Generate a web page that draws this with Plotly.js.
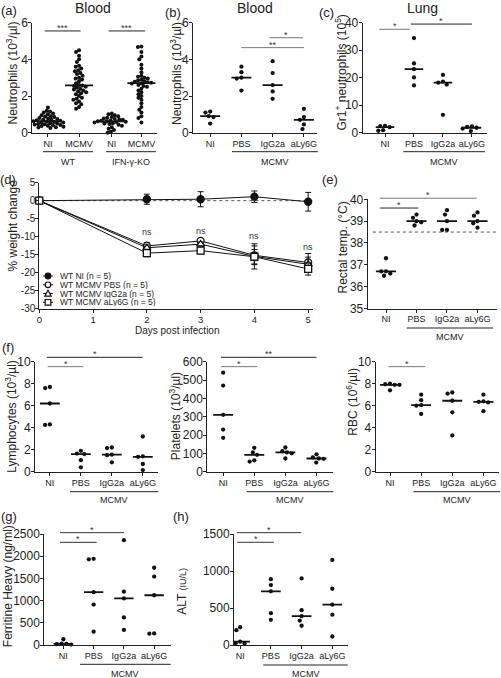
<!DOCTYPE html>
<html>
<head>
<meta charset="utf-8">
<script src="https://cdn.plot.ly/plotly-3.0.1.min.js"></script>
<style>html,body{margin:0;padding:0;background:#fff;overflow:hidden}</style>
</head>
<body>
<div id="chart" style="width:501px;height:678px"></div>
<script>
// ================= DATA =================
const groups4 = ['NI', 'PBS', 'IgG2a', 'aLy6G'];
const pos4 = [0, 1, 2, 3];
const groupsA = ['NI', 'MCMV', 'NI', 'MCMV'];
const posA = [0, 1, 2.05, 3];

// (a) Blood neutrophils (10^3/µl)
const aWT_NI = [1.38, 1.2, 1.15, 1.1, 1.05, 1.0, 0.95, 0.9, 0.88, 0.85, 0.8, 0.78, 0.75, 0.72, 0.7, 0.68, 0.65, 0.63, 0.6, 0.58, 0.56, 0.55, 0.52, 0.5, 0.48, 0.46, 0.45, 0.42, 0.4, 0.38, 0.36, 0.33, 0.3, 0.28, 0.25];
const aWT_MCMV = [4.5, 4.4, 4.2, 4.0, 3.85, 3.65, 3.6, 3.5, 3.4, 3.35, 3.25, 3.2, 3.1, 3.0, 2.95, 2.9, 2.8, 2.7, 2.6, 2.58, 2.55, 2.5, 2.45, 2.4, 2.35, 2.3, 2.25, 2.2, 2.15, 2.1, 2.0, 1.9, 1.85, 1.8, 1.7, 1.6, 1.55, 1.4, 1.3];
const aKO_NI = [1.05, 1.0, 0.95, 0.9, 0.85, 0.82, 0.78, 0.75, 0.72, 0.7, 0.67, 0.65, 0.63, 0.62, 0.6, 0.58, 0.55, 0.52, 0.5, 0.47, 0.43, 0.38, 0.3, 0.22, 0.15, 0.05, 0.0];
const aKO_MCMV = [4.7, 4.68, 4.4, 4.15, 4.0, 3.7, 3.5, 3.3, 3.1, 3.05, 3.0, 2.95, 2.9, 2.85, 2.8, 2.78, 2.75, 2.72, 2.7, 2.68, 2.6, 2.55, 2.5, 2.4, 2.3, 2.2, 2.1, 2.0, 1.9, 1.8, 1.6, 1.4, 1.25, 1.1, 0.9, 0.8, 0.55];

// (b) Blood neutrophils (10^3/µl)
const bNI = [1.15, 1.1, 0.9, 0.85, 0.5];
const bPBS = [3.6, 3.3, 3.0, 2.95, 2.3];
const bIgG = [3.9, 3.25, 2.6, 2.25, 1.85];
const bLy = [1.3, 0.85, 0.7, 0.45, 0.2];

// (c) Lung Gr1+ neutrophils (10^5)
const cNI = [2.5, 2.4, 2.0, 0.9, 0.7];
const cPBS = [34.4, 25.2, 23.1, 20.1, 17.2];
const cIgG = [21, 18.6, 18.2, 17.5, 6.5];
const cLy = [2.3, 2.1, 1.8, 1.5, 0.6];

// (d) % weight change
const days = [0, 2, 3, 4, 5];
const dayTicks = [0, 1, 2, 3, 4, 5];
const wNI = [0, 0.4, 0.4, 1.1, -0.3];
const wNIerr = [0, 1.4, 2.1, 1.6, 2.6];
const wPBS = [0, -12.6, -11.2, -15.2, -17.2];
const wPBSerr = [0, 1.0, 0.5, 2.6, 2.5];
const wIgG = [0, -13.1, -12.1, -15.5, -17.7];
const wIgGerr = [0, 0.8, 0.6, 3.5, 2.0];
const wLy = [0, -14.6, -13.9, -15.6, -19.0];
const wLyerr = [0, 1.0, 0.9, 2.0, 1.7];
const nsDays = [2, 3, 4, 5];
const nsY = [-8.6, -8.4, -9.8, -13.0];
const dNames = ['WT NI (n = 5)', 'WT MCMV PBS (n = 5)', 'WT MCMV IgG2a (n = 5)', 'WT MCMV aLy6G (n = 5)'];
const dYTicks = [-30, -25, -20, -15, -10, -5, 0, 5];
const dYTickText = ['-30', '-25', '-20', '-15', '-10', '-5', '0', '5'];

// (e) Rectal temp (°C)
const eNI = [37.3, 36.7, 36.7, 36.6, 36.5];
const ePBS = [39.3, 39.15, 39.0, 38.95, 38.8];
const eIgG = [39.5, 39.3, 39.0, 38.6, 38.6];
const eLy = [39.4, 39.25, 39.0, 38.9, 38.7];
const eThreshold = 38.5;

// (f) Lymphocytes, Platelets (10^3/µl), RBC (10^6/µl)
const lNI = [7.7, 7.6, 6.2, 4.3, 4.25];
const lPBS = [1.9, 1.65, 1.6, 1.05, 0.4];
const lIgG = [2.2, 2.15, 1.55, 1.5, 0.85];
const lLy = [3.2, 1.4, 1.35, 0.7, 0.15];
const pNI = [540, 470, 310, 230, 185];
const pPBS = [130, 105, 92, 62, 55];
const pIgG = [132, 112, 105, 100, 72];
const pLy = [95, 78, 72, 70, 50];
const rNI = [8.0, 7.95, 7.9, 7.9, 7.4];
const rPBS = [7.0, 6.5, 6.05, 6.0, 5.25];
const rIgG = [7.2, 7.1, 6.45, 5.4, 3.3];
const rLy = [7.0, 6.4, 6.35, 6.3, 5.5];

// (g) Ferritine Heavy (ng/ml)
const gNI = [130, 30, 25, 20, 10];
const gPBS = [1940, 1930, 1190, 910, 300];
const gIgG = [2360, 1200, 1050, 620, 340];
const gLy = [1740, 1540, 1120, 260, 255];

// (h) ALT (IU/L)
const hNI = [240, 200, 45, 25, 20];
const hPBS = [890, 810, 725, 430, 340];
const hIgG = [900, 470, 390, 330, 260];
const hLy = [1150, 760, 545, 410, 115];

// ================= LAYOUT GEOMETRY (px) =================
const W = 501, H = 678;
const FONT = 'Liberation Sans, Arial, sans-serif';
const panels = {
  a:  {n: 1,  x0: 32.3,  x1: 157,   y0: 22.7,  y1: 132.7, xr: [-0.5, 3.5],   yr: [0, 6],     dy: 2},
  b:  {n: 2,  x0: 193,   x1: 317,   y0: 22.7,  y1: 132.7, xr: [-0.55, 3.42], yr: [0, 6],     dy: 2},
  c:  {n: 3,  x0: 362.7, x1: 486.7, y0: 22.7,  y1: 132.7, xr: [-0.77, 3.51], yr: [0, 40],    dy: 10},
  d:  {n: 4,  x0: 39.3,  x1: 313,   y0: 182.7, y1: 308.5, xr: [0, 5.09],     yr: [-30, 5],   dy: 5},
  e:  {n: 5,  x0: 367.7, x1: 496.7, y0: 199.3, y1: 308.5, xr: [-0.6, 3.63],  yr: [35, 40],   dy: 1},
  f1: {n: 6,  x0: 35,    x1: 158,   y0: 361.7, y1: 471.7, xr: [-0.48, 3.49], yr: [0, 10],    dy: 2},
  f2: {n: 7,  x0: 207.3, x1: 333,   y0: 361.7, y1: 471.7, xr: [-0.51, 3.53], yr: [0, 600],   dy: 100},
  f3: {n: 8,  x0: 375.7, x1: 499,   y0: 361.7, y1: 471.7, xr: [-0.46, 3.5],  yr: [0, 10],    dy: 2},
  g:  {n: 9,  x0: 44.3,  x1: 170.5, y0: 534,   y1: 645,   xr: [-0.63, 3.54], yr: [0, 2500],  dy: 500},
  h:  {n: 10, x0: 234,   x1: 348.3, y0: 534,   y1: 645,   xr: [-0.2, 3.52],  yr: [0, 1500],  dy: 500}
};
const sfx = n => (n === 1 ? '' : String(n));
const toPX = (p, x) => p.x0 + (x - p.xr[0]) / (p.xr[1] - p.xr[0]) * (p.x1 - p.x0);
const toPY = (p, y) => p.y1 - (y - p.yr[0]) / (p.yr[1] - p.yr[0]) * (p.y1 - p.y0);

const layout = {
  width: W, height: H, margin: {l: 0, r: 0, t: 0, b: 0},
  showlegend: false, paper_bgcolor: '#fff', plot_bgcolor: 'rgba(0,0,0,0)',
  font: {family: FONT, color: '#222'},
  shapes: [], annotations: []
};

for (const k in panels) {
  const p = panels[k], s = sfx(p.n);
  const yt = [];
  for (let v = p.yr[0]; v <= p.yr[1] + 1e-9; v += p.dy) yt.push(+v.toFixed(6));
  layout['xaxis' + s] = {
    domain: [p.x0 / W, p.x1 / W], range: p.xr, anchor: 'y' + s,
    showline: true, linecolor: '#222', linewidth: 1, ticks: 'outside', ticklen: 3,
    tickwidth: 1, tickcolor: '#222', showgrid: false, zeroline: false,
    tickfont: {size: 9, family: FONT, color: '#222'}, fixedrange: true,
    tickvals: pos4, ticktext: groups4, ticklabelstandoff: -1
  };
  layout['yaxis' + s] = {
    domain: [1 - p.y1 / H, 1 - p.y0 / H], range: p.yr, anchor: 'x' + s,
    showline: true, linecolor: '#222', linewidth: 1, ticks: 'outside', ticklen: 3,
    tickwidth: 1, tickcolor: '#222', showgrid: false, zeroline: false,
    tickvals: yt, tickfont: {size: 12, family: FONT, color: '#222'}, fixedrange: true,
    ticklabelstandoff: -2
  };
}
layout.xaxis.tickvals = posA; layout.xaxis.ticktext = groupsA;
layout.xaxis4.tickvals = dayTicks; layout.xaxis4.ticktext = dayTicks.map(String);
layout.xaxis4.tickfont.size = 9.5;
layout.yaxis4.tickvals = dYTicks; layout.yaxis4.ticktext = dYTickText;
layout.yaxis4.tickfont.size = 10;

// ================= HELPERS =================
function swarm(vals, center, sx, sy, d) {
  const order = vals.map((v, i) => i).sort((i, j) => vals[j] - vals[i]);
  const placed = [], xs = new Array(vals.length);
  for (const i of order) {
    const ypx = vals[i] * sy;
    const iv = [];
    for (const q of placed) {
      const dyy = Math.abs(q.y - ypx);
      if (dyy < d) { const dx = Math.sqrt(d * d - dyy * dyy); iv.push([q.x - dx, q.x + dx]); }
    }
    const cands = [0];
    iv.forEach(r => cands.push(r[0], r[1]));
    cands.sort((a, b) => Math.abs(a) - Math.abs(b));
    let best = 0;
    for (const c of cands) {
      if (iv.every(r => c <= r[0] + 1e-9 || c >= r[1] - 1e-9)) { best = c; break; }
    }
    placed.push({x: best, y: ypx});
    xs[i] = center + best / sx;
  }
  return xs;
}
function median(a) {
  const s = a.slice().sort((x, y) => x - y), m = Math.floor(s.length / 2);
  return s.length % 2 ? s[m] : (s[m - 1] + s[m]) / 2;
}
const traces = [];
function dotPanel(key, groups, positions, halfW, gap, msize) {
  const p = panels[key], s = sfx(p.n);
  const sx = (p.x1 - p.x0) / (p.xr[1] - p.xr[0]);
  const sy = (p.y1 - p.y0) / (p.yr[1] - p.yr[0]);
  let X = [], Y = [], MX = [], MY = [];
  groups.forEach((g, i) => {
    X = X.concat(swarm(g, positions[i], sx, sy, gap));
    Y = Y.concat(g);
    const m = median(g);
    MX.push(positions[i] - halfW, positions[i] + halfW, null);
    MY.push(m, m, null);
  });
  traces.push({type: 'scatter', mode: 'lines', x: MX, y: MY, xaxis: 'x' + s, yaxis: 'y' + s,
    line: {color: '#111', width: 1.8}, hoverinfo: 'skip', cliponaxis: false});
  traces.push({type: 'scatter', mode: 'markers', x: X, y: Y, xaxis: 'x' + s, yaxis: 'y' + s,
    marker: {size: msize, color: '#111'}, hoverinfo: 'skip', cliponaxis: false});
}
function txt(x, y, text, size, extra) {
  layout.annotations.push(Object.assign({
    xref: 'paper', yref: 'paper', x: x / W, y: 1 - y / H, text: text, showarrow: false,
    font: {size: size, family: FONT, color: '#222'}, xanchor: 'center', yanchor: 'middle'
  }, extra || {}));
}
function hline(x0, x1, y, color, width, dash) {
  layout.shapes.push({type: 'line', xref: 'paper', yref: 'paper',
    x0: x0 / W, x1: x1 / W, y0: 1 - y / H, y1: 1 - y / H,
    line: {color: color, width: width || 1, dash: dash || 'solid'}});
}
function sig(key, x0, x1, y, stars, color) {
  const p = panels[key];
  const X0 = toPX(p, x0), X1 = toPX(p, x1), Y = toPY(p, y);
  hline(X0, X1, Y, color, 1);
  txt((X0 + X1) / 2, Y, stars, 9, {yanchor: 'bottom', yshift: -4, font: {size: 9, family: FONT, color: '#333'}});
}

// ================= DOT PANELS =================
dotPanel('a', [aWT_NI, aWT_MCMV, aKO_NI, aKO_MCMV], posA, 0.45, 3.5, 4);
dotPanel('b', [bNI, bPBS, bIgG, bLy], pos4, 0.32, 4.8, 4.3);
dotPanel('c', [cNI, cPBS, cIgG, cLy], pos4, 0.32, 4.8, 4.3);
dotPanel('e', [eNI, ePBS, eIgG, eLy], pos4, 0.33, 4.8, 4.3);
dotPanel('f1', [lNI, lPBS, lIgG, lLy], pos4, 0.32, 4.8, 4.3);
dotPanel('f2', [pNI, pPBS, pIgG, pLy], pos4, 0.32, 4.8, 4.3);
dotPanel('f3', [rNI, rPBS, rIgG, rLy], pos4, 0.32, 4.8, 4.3);
dotPanel('g', [gNI, gPBS, gIgG, gLy], pos4, 0.32, 4.8, 4.3);
dotPanel('h', [hNI, hPBS, hIgG, hLy], pos4, 0.32, 4.8, 4.3);

// ================= (d) weight curves =================
const dSeries = [
  {y: wNI, e: wNIerr, sym: 'circle', fill: '#111'},
  {y: wPBS, e: wPBSerr, sym: 'circle', fill: '#fff'},
  {y: wIgG, e: wIgGerr, sym: 'triangle-up', fill: '#fff'},
  {y: wLy, e: wLyerr, sym: 'square', fill: '#fff'}
];
dSeries.forEach((sr, i) => {
  traces.push({type: 'scatter', mode: 'lines+markers', name: dNames[i], x: days, y: sr.y,
    xaxis: 'x4', yaxis: 'y4', cliponaxis: false, hoverinfo: 'skip',
    line: {color: '#111', width: 1},
    marker: {symbol: sr.sym, size: 7, color: sr.fill, line: {color: '#111', width: 1.3}},
    error_y: {type: 'data', array: sr.e, visible: true, color: '#111', thickness: 1, width: 3}});
});
layout.shapes.push({type: 'line', xref: 'x4 domain', yref: 'y4', x0: 0, x1: 1, y0: 0, y1: 0,
  line: {color: '#555', width: 1, dash: 'dot'}, layer: 'below'});
nsDays.forEach((dd, i) => layout.annotations.push({xref: 'x4', yref: 'y4', x: dd, y: nsY[i], text: 'ns',
  showarrow: false, font: {size: 9, family: FONT, color: '#333'}}));
// legend (d)
const legY = [276, 284.8, 293.5, 302.3];
legY.forEach((yy, i) => {
  hline(43, 53, yy, '#111', 1);
  const cx = 48, r = 2.8, ys = v => 1 - v / H, xs = v => v / W;
  const ln = {color: '#111', width: 1.2};
  if (i === 0) layout.shapes.push({type: 'circle', xref: 'paper', yref: 'paper', x0: xs(cx - r), x1: xs(cx + r), y0: ys(yy + r), y1: ys(yy - r), fillcolor: '#111', line: ln});
  if (i === 1) layout.shapes.push({type: 'circle', xref: 'paper', yref: 'paper', x0: xs(cx - r), x1: xs(cx + r), y0: ys(yy + r), y1: ys(yy - r), fillcolor: '#fff', line: ln});
  if (i === 2) layout.shapes.push({type: 'path', xref: 'paper', yref: 'paper',
    path: `M ${xs(cx - 3.2)} ${ys(yy + 2.6)} L ${xs(cx + 3.2)} ${ys(yy + 2.6)} L ${xs(cx)} ${ys(yy - 3.2)} Z`, fillcolor: '#fff', line: ln});
  if (i === 3) layout.shapes.push({type: 'rect', xref: 'paper', yref: 'paper', x0: xs(cx - 2.8), x1: xs(cx + 2.8), y0: ys(yy + 2.8), y1: ys(yy - 2.8), fillcolor: '#fff', line: ln});
  txt(58, yy, dNames[i], 8.5, {xanchor: 'left', height: 8});
});
txt(177, 330, 'Days post infection', 10);

// (e) threshold
layout.shapes.push({type: 'line', xref: 'x5 domain', yref: 'y5', x0: 0.04, x1: 1, y0: eThreshold, y1: eThreshold,
  line: {color: '#555', width: 1, dash: 'dot'}, layer: 'below'});

// ================= significance =================
sig('a', -0.1, 1.05, 5.55, '***', '#222');
sig('a', 1.95, 3.12, 5.55, '***', '#222');
sig('b', 1.0, 3.0, 4.64, '**', '#777');
sig('b', 1.9, 2.97, 5.18, '*', '#777');
sig('c', -0.2, 0.86, 37.6, '*', '#777');
sig('c', 0.89, 3.0, 39.5, '*', '#222');
sig('e', -0.2, 1.06, 39.6, '*', '#222');
sig('e', -0.2, 2.97, 40.05, '*', '#777');
sig('f1', -0.07, 1.08, 9.55, '*', '#777');
sig('f1', -0.1, 2.99, 10.4, '*', '#222');
sig('f2', -0.07, 1.1, 573, '*', '#777');
sig('f2', -0.07, 3.0, 624, '**', '#222');
sig('f3', -0.05, 1.13, 9.55, '*', '#777');
sig('g', -0.11, 1.1, 2312, '*', '#333');
sig('g', -0.11, 2.0, 2530, '*', '#333');
sig('h', -0.1, 1.1, 1388, '*', '#333');
sig('h', -0.1, 1.99, 1518, '*', '#333');

// ================= group underlines =================
function grp(x0, x1, yl, yt, label) { hline(x0, x1, yl, '#222', 1); txt((x0 + x1) / 2, yt, label, 9); }
grp(43, 93, 151.7, 162.3, 'WT');
grp(106, 156, 151.7, 162.3, 'IFN-γ-KO');
grp(232, 318, 151.7, 162.3, 'MCMV');
grp(403.3, 485, 151.7, 162.3, 'MCMV');
grp(406.7, 493.3, 328, 336.5, 'MCMV');
grp(70, 158.3, 491.7, 500.3, 'MCMV');
grp(246.7, 333.3, 491.7, 500.3, 'MCMV');
grp(413.3, 500, 491.7, 500.3, 'MCMV');
grp(80, 170.7, 664.3, 673.5, 'MCMV');
grp(263.3, 347.7, 665, 673.5, 'MCMV');

// ================= titles & labels =================
txt(93, 8, 'Blood', 14);
txt(255, 8, 'Blood', 14);
txt(422, 8, 'Lung', 14);
[['(a)', 9, 11], ['(b)', 173, 12], ['(c)', 326, 12], ['(d)', 8, 179], ['(e)', 330, 179],
 ['(f)', 8, 347], ['(g)', 9, 516], ['(h)', 181, 516]].forEach(l => txt(l[1], l[2], l[0], 13));
const rot = {textangle: -90};
txt(11, 73.5, 'Neutrophils (10<sup>3</sup>/µl)', 12, rot);
txt(175.5, 73.5, 'Neutrophils (10<sup>3</sup>/µl)', 12, rot);
txt(340.5, 73, 'Gr1<sup>+</sup> neutrophils (10<sup>5</sup>)', 12, rot);
txt(12.5, 226, '% weight change', 12, rot);
txt(342.5, 248, 'Rectal temp. (°C)', 12, rot);
txt(11, 416.7, 'Lymphocytes (10<sup>3</sup>/µl)', 12, rot);
txt(174.5, 416.7, 'Platelets (10<sup>3</sup>/µl)', 12, rot);
txt(352, 401.7, 'RBC (10<sup>6</sup>/µl)', 12, rot);
txt(7.5, 586.7, 'Ferritine Heavy (ng/ml)', 12, rot);
txt(182, 591.7, 'ALT <span style="font-size:9px">(IU/L)</span>', 12, rot);

Plotly.newPlot('chart', traces, layout, {staticPlot: true, displayModeBar: false});
</script>
</body>
</html>
